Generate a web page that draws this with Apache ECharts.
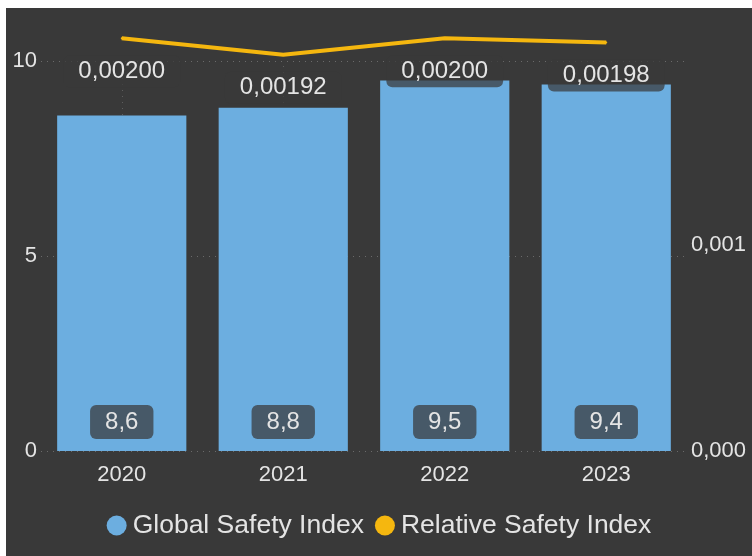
<!DOCTYPE html>
<html>
<head>
<meta charset="utf-8">
<script src="https://cdn.jsdelivr.net/npm/echarts@6/dist/echarts.min.js"></script>
<style>
html,body{margin:0;padding:0;background:#ffffff;width:752px;height:556px;overflow:hidden;}
#chart{position:absolute;left:6px;top:8px;width:746px;height:548px;background:#393939;}
</style>
</head>
<body>
<div id="chart"></div>
<script>
var categories = ['2020', '2021', '2022', '2023'];
var globalSafety = [8.6, 8.8, 9.5, 9.4];
var relativeSafety = [0.00200, 0.00192, 0.00200, 0.00198];
var leftTicks = [0, 5, 10];
var rightTicks = [0, 0.001];

function comma(v, d) { return v.toFixed(d).replace('.', ','); }

var chart = echarts.init(document.getElementById('chart'));
var textColor = '#e4e4e4';
var labelBg = 'rgba(57,57,57,0.72)';
chart.setOption({
  backgroundColor: '#393939',
  animation: false,
  textStyle: { fontFamily: 'Liberation Sans, Arial, sans-serif' },
  grid: { left: 35, right: 65, top: 53, bottom: 105 },
  legend: {
    data: ['Global Safety Index', 'Relative Safety Index'],
    left: 'center',
    bottom: 12,
    icon: 'circle',
    itemWidth: 20,
    itemHeight: 20,
    itemGap: 11,
    textStyle: { color: textColor, fontSize: 26.5, padding: [0, 0, 0, 1] }
  },
  xAxis: {
    type: 'category',
    data: categories,
    axisLine: { show: false },
    axisTick: { show: false },
    axisLabel: { color: textColor, fontSize: 22, margin: 13 },
    splitLine: { show: false }
  },
  yAxis: [{
    type: 'value',
    min: leftTicks[0],
    max: leftTicks[leftTicks.length - 1],
    interval: 5,
    axisLine: { show: false },
    axisTick: { show: false },
    axisLabel: { color: textColor, fontSize: 22, margin: 4 },
    splitLine: { lineStyle: { color: '#6a6a6a', type: [1, 5], width: 1 } }
  }, {
    type: 'value',
    min: rightTicks[0],
    max: 0.00189,
    interval: 0.001,
    position: 'right',
    axisLine: { show: false },
    axisTick: { show: false },
    axisLabel: { color: textColor, fontSize: 22, margin: 4, showMaxLabel: false,
      formatter: function (v) { return comma(v, 3); } },
    splitLine: { show: false }
  }],
  series: [{
    name: 'Global Safety Index',
    type: 'bar',
    data: globalSafety,
    barWidth: '80%',
    itemStyle: { color: '#6caee0' },
    z: 2,
    label: {
      show: true,
      position: 'insideBottom',
      distance: 12,
      color: textColor,
      fontSize: 24,
      backgroundColor: labelBg,
      borderRadius: 6,
      padding: [5, 15],
      formatter: function (p) { return comma(p.value, 1); }
    }
  }, {
    name: 'Relative Safety Index',
    type: 'line',
    yAxisIndex: 1,
    data: relativeSafety,
    clip: false,
    symbol: 'circle',
    symbolSize: 2,
    itemStyle: { color: '#f5b70f' },
    lineStyle: { color: '#f5b70f', width: 4 },
    z: 3,
    label: {
      show: true,
      position: 'bottom',
      distance: 16,
      color: textColor,
      fontSize: 24,
      backgroundColor: labelBg,
      borderRadius: 6,
      padding: [4, 15],
      formatter: function (p) { return comma(p.value, 5); }
    },
    markLine: {
      silent: true,
      symbol: 'none',
      z: 1,
      label: { show: false },
      lineStyle: { color: '#5e5e5e', type: [1, 5], width: 1 },
      data: categories.map(function (c) { return { xAxis: c }; })
    }
  }]
});
</script>
</body>
</html>
